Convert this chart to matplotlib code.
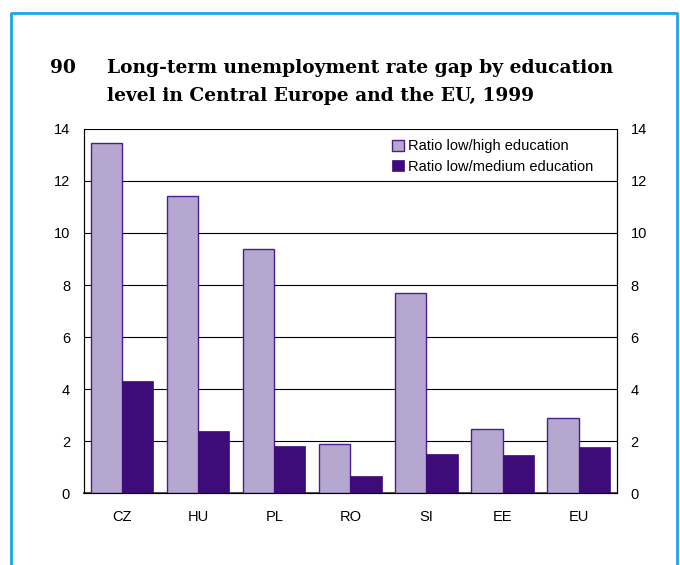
import numpy as np
import matplotlib.pyplot as plt
from matplotlib.lines import Line2D

countries = ['CZ', 'HU', 'PL', 'RO', 'SI', 'EE', 'EU']
ratio_low_high = [13.47, 11.42, 9.37, 1.88, 7.7, 2.46, 2.88]
ratio_low_medium = [4.3, 2.4, 1.82, 0.65, 1.5, 1.46, 1.77]

light = '#b5a7cf'
dark = '#3d0c78'
edge = '#4a1f8c'

plt.rcParams['font.family'] = ['Liberation Sans', 'DejaVu Sans']

fig = plt.figure(figsize=(6.8, 5.65), dpi=100)
ax = fig.add_axes([0.1235, 0.1274, 0.7835, 0.6443])

x = np.arange(len(countries))
w = 0.41
ax.bar(x - w / 2, ratio_low_high, w, color=light, edgecolor=edge, linewidth=1.0,
       label='Ratio low/high education', zorder=3)
ax.bar(x + w / 2, ratio_low_medium, w, color=dark, edgecolor=dark, linewidth=0.5,
       label='Ratio low/medium education', zorder=3)

ax.set_xlim(-0.5, len(countries) - 0.5)
ax.set_ylim(0, 14)
ax.set_yticks(range(0, 15, 2))
ax.yaxis.grid(True, color='black', linewidth=0.8)
ax.set_axisbelow(True)
ax.set_xticks(x)
ax.set_xticklabels(countries)
ax.tick_params(axis='x', length=0, pad=12, labelsize=10.5)
ax.tick_params(axis='y', length=0, pad=10, labelsize=10.5)
ax.spines['top'].set_visible(False)
ax.spines['left'].set_color('#555555')
ax.spines['bottom'].set_color('#555555')
ax.spines['bottom'].set_linewidth(1.5)
ax.spines['right'].set_color('black')

ax2 = ax.twinx()
ax2.set_ylim(0, 14)
ax2.set_yticks(range(0, 15, 2))
ax2.tick_params(axis='y', length=0, pad=10, labelsize=10.5)
ax2.spines['top'].set_visible(False)

leg = ax.legend(loc='upper right', bbox_to_anchor=(0.975, 1.0), frameon=False, fontsize=10.5,
                handlelength=0.8, handleheight=0.8, handletextpad=0.3, labelspacing=0.45,
                borderaxespad=0.3)

title_font = dict(family=['DejaVu Serif'], weight='bold', fontsize=13.4, va='center', ha='left')
fig.text(50 / 680, 1 - 68 / 565, '90', **title_font)
fig.text(107 / 680, 1 - 68 / 565, 'Long-term unemployment rate gap by education', **title_font)
fig.text(107 / 680, 1 - 96 / 565, 'level in Central Europe and the EU, 1999', **title_font)

blue = '#1aa7e6'
fx = [11 / 680, 11 / 680, 677 / 680, 677 / 680]
fy = [0, 1 - 13 / 565, 1 - 13 / 565, 0]
fig.add_artist(Line2D(fx, fy, color=blue, linewidth=2.0, transform=fig.transFigure))

fig.savefig('out.png', dpi=100)
